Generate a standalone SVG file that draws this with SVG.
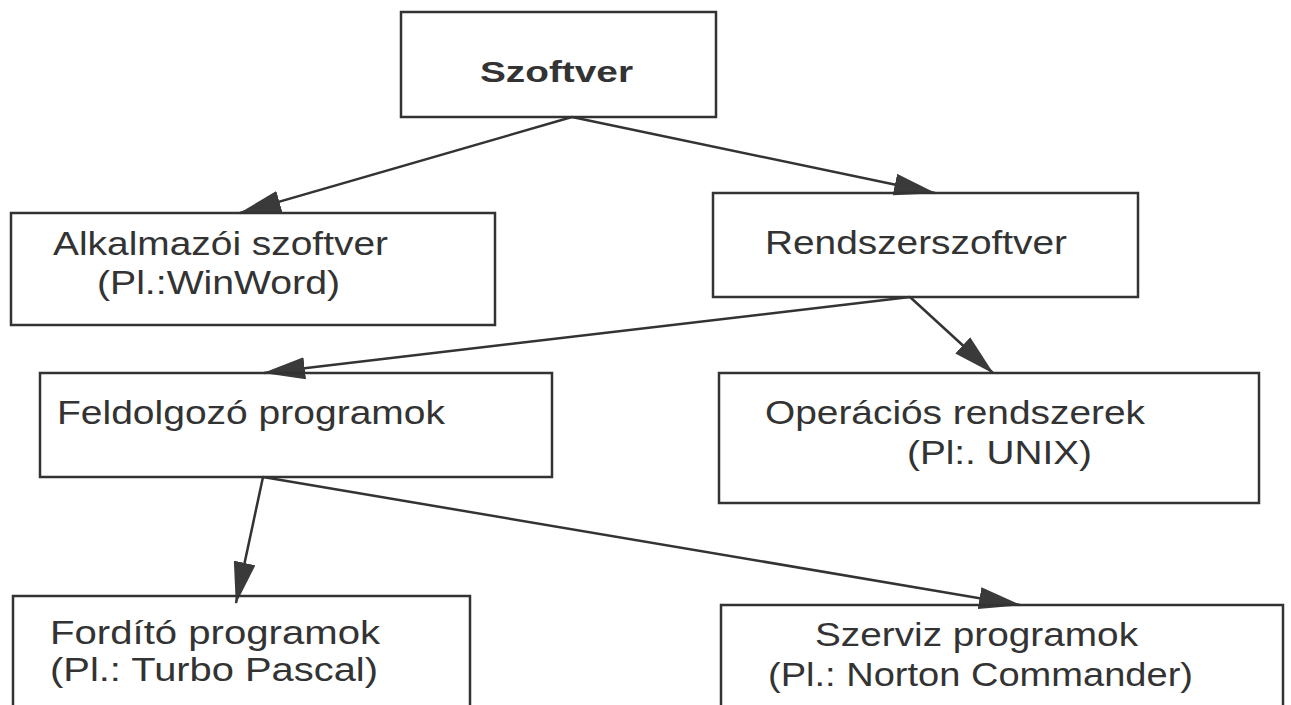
<svg xmlns="http://www.w3.org/2000/svg" width="1291" height="705" viewBox="0 0 1291 705">
  <style>
    .box { fill: none; stroke: #333; stroke-width: 2.5; }
    .t { font-family: "Liberation Sans", Arial, sans-serif; font-size: 34px; fill: #333; }
    .b { font-weight: bold; font-size: 30px; }
    .c { stroke: #333; stroke-width: 2.5; fill: none; marker-end: url(#ah); }
  </style>
  <defs>
    <marker id="ah" viewBox="0 0 42 22" refX="41" refY="11" markerWidth="42" markerHeight="22" markerUnits="userSpaceOnUse" orient="auto">
      <path d="M0,0 L42,11 L0,22 z" fill="#3a3a3a"/>
    </marker>
  </defs>
  <rect width="1291" height="705" fill="#fff"/>
  <g id="connectors">
    <line class="c" x1="572" y1="117" x2="240" y2="213"/>
    <line class="c" x1="572" y1="117" x2="935" y2="193"/>
    <line class="c" x1="910" y1="297" x2="264" y2="373"/>
    <line class="c" x1="910" y1="297" x2="993" y2="373"/>
    <line class="c" x1="263" y1="477" x2="236" y2="603"/>
    <line class="c" x1="263" y1="477" x2="1020" y2="605"/>
  </g>
  <g id="szoftver">
    <rect class="box" x="401" y="12" width="315" height="105"/>
    <text class="t b" x="480" y="82" textLength="153" lengthAdjust="spacingAndGlyphs">Szoftver</text>
  </g>
  <g id="alkalmazoi">
    <rect class="box" x="11" y="213" width="484" height="112"/>
    <text class="t" x="53" y="255" textLength="335" lengthAdjust="spacingAndGlyphs">Alkalmazói szoftver</text>
    <text class="t" x="97" y="294" textLength="243" lengthAdjust="spacingAndGlyphs">(Pl.:WinWord)</text>
  </g>
  <g id="rendszerszoftver">
    <rect class="box" x="713" y="193" width="425" height="104"/>
    <text class="t" x="765" y="254" textLength="302" lengthAdjust="spacingAndGlyphs">Rendszerszoftver</text>
  </g>
  <g id="feldolgozo">
    <rect class="box" x="40" y="373" width="512" height="104"/>
    <text class="t" x="57" y="424" textLength="388" lengthAdjust="spacingAndGlyphs">Feldolgozó programok</text>
  </g>
  <g id="operacios">
    <rect class="box" x="719" y="373" width="540" height="130"/>
    <text class="t" x="765" y="424" textLength="380" lengthAdjust="spacingAndGlyphs">Operációs rendszerek</text>
    <text class="t" x="907" y="464" textLength="185" lengthAdjust="spacingAndGlyphs">(Pl:. UNIX)</text>
  </g>
  <g id="fordito">
    <rect class="box" x="13" y="596" width="457" height="150"/>
    <text class="t" x="50" y="644" textLength="330" lengthAdjust="spacingAndGlyphs">Fordító programok</text>
    <text class="t" x="50" y="681" textLength="328" lengthAdjust="spacingAndGlyphs">(Pl.: Turbo Pascal)</text>
  </g>
  <g id="szerviz">
    <rect class="box" x="721" y="605" width="562" height="150"/>
    <text class="t" x="815" y="646" textLength="323" lengthAdjust="spacingAndGlyphs">Szerviz programok</text>
    <text class="t" x="768" y="686" textLength="425" lengthAdjust="spacingAndGlyphs">(Pl.: Norton Commander)</text>
  </g>
</svg>
